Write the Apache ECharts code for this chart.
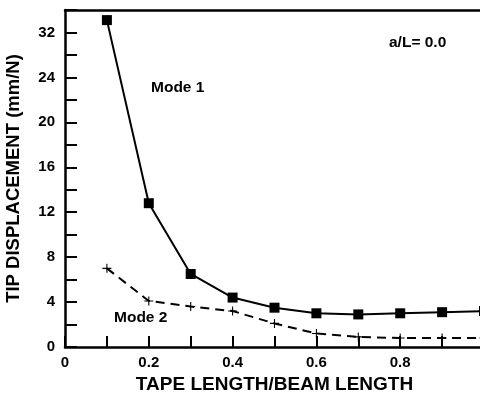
<!DOCTYPE html>
<html>
<head>
<meta charset="utf-8">
<script src="https://cdn.jsdelivr.net/npm/echarts@6/dist/echarts.min.js"></script>
<style>
html,body{margin:0;padding:0;background:#fff;}
#c{width:480px;height:393px;}
</style>
</head>
<body>
<div id="c"></div>
<script>
// Tape length / beam length
var ratios = [0.1, 0.2, 0.3, 0.4, 0.5, 0.6, 0.7, 0.8, 0.9, 1.0];
// Tip displacement (plotted in axis units of the drawn scale)
var mode1 = [29.1, 12.8, 6.5, 4.4, 3.5, 3.0, 2.9, 3.0, 3.1, 3.2];
var mode2 = [7.0, 4.1, 3.6, 3.2, 2.1, 1.2, 0.9, 0.8, 0.8, 0.8];
// Tick labels as printed on the axes
var yTickLabels = ['0', '4', '8', '12', '16', '20', '24', '32'];
var xTickLabels = ['0', '0.2', '0.4', '0.6', '0.8', '1'];

var FONT = '"Liberation Sans", Arial, Helvetica, sans-serif';
var plus = 'path://M-1.2,-10 L1.2,-10 L1.2,-1.2 L10,-1.2 L10,1.2 L1.2,1.2 L1.2,10 L-1.2,10 L-1.2,1.2 L-10,1.2 L-10,-1.2 L-1.2,-1.2 Z';

var chart = echarts.init(document.getElementById('c'), null, {renderer: 'canvas'});
chart.setOption({
  animation: false,
  backgroundColor: '#fff',
  grid: {left: 65, top: 10, width: 419, height: 337, containLabel: false, outerBoundsMode: 'none'},
  xAxis: [{
    type: 'value', min: 0, max: 1, interval: 0.1,
    name: 'TAPE LENGTH/BEAM LENGTH', nameLocation: 'middle', nameGap: 28,
    nameTextStyle: {fontFamily: FONT, fontWeight: 'bold', fontSize: 19, color: '#000'},
    axisLine: {lineStyle: {color: '#000', width: 2.5}},
    axisTick: {inside: true, length: 11, lineStyle: {color: '#000', width: 2}},
    splitLine: {show: false},
    axisLabel: {
      margin: 8, fontFamily: FONT, fontWeight: 'bold', fontSize: 15, color: '#000',
      showMaxLabel: true,
      formatter: function (v) {
        var k = Math.round(v * 10);
        return k % 2 === 0 ? xTickLabels[k / 2] : '';
      }
    }
  }, {
    type: 'value', min: 0, max: 1, position: 'top',
    axisLine: {lineStyle: {color: '#000', width: 2.5}},
    axisTick: {show: false}, axisLabel: {show: false}, splitLine: {show: false}
  }],
  yAxis: {
    type: 'value', min: 0, max: 30, interval: 2,
    name: 'TIP DISPLACEMENT (mm/N)', nameLocation: 'middle', nameGap: 42, nameRotate: 90,
    nameTextStyle: {fontFamily: FONT, fontWeight: 'bold', fontSize: 18.5, color: '#000'},
    axisLine: {lineStyle: {color: '#000', width: 2.5}},
    axisTick: {inside: true, length: 12, lineStyle: {color: '#000', width: 2}},
    splitLine: {show: false},
    axisLabel: {
      margin: 10, fontFamily: FONT, fontWeight: 'bold', fontSize: 15, color: '#000',
      formatter: function (v) {
        var k = Math.round(v);
        return k % 4 === 0 ? (yTickLabels[k / 4] || '') : '';
      }
    }
  },
  series: [{
    name: 'Mode 1', type: 'line',
    data: ratios.map(function (x, i) { return [x, mode1[i]]; }),
    symbol: 'rect', symbolSize: 10,
    lineStyle: {color: '#000', width: 2},
    itemStyle: {color: '#000'},
    clip: false
  }, {
    name: 'Mode 2', type: 'line',
    data: ratios.map(function (x, i) { return [x, mode2[i]]; }),
    symbol: plus, symbolSize: 9,
    lineStyle: {color: '#000', width: 2, type: [9, 6]},
    itemStyle: {color: '#000'},
    clip: false
  }],
  graphic: [
    {type: 'text', left: 151, top: 80, style: {text: 'Mode 1', font: 'bold 15.5px ' + FONT, fill: '#000'}},
    {type: 'text', left: 114, top: 310, style: {text: 'Mode 2', font: 'bold 15.5px ' + FONT, fill: '#000'}},
    {type: 'text', left: 389, top: 35, style: {text: 'a/L= 0.0', font: 'bold 15.5px ' + FONT, fill: '#000'}}
  ]
});
</script>
</body>
</html>
